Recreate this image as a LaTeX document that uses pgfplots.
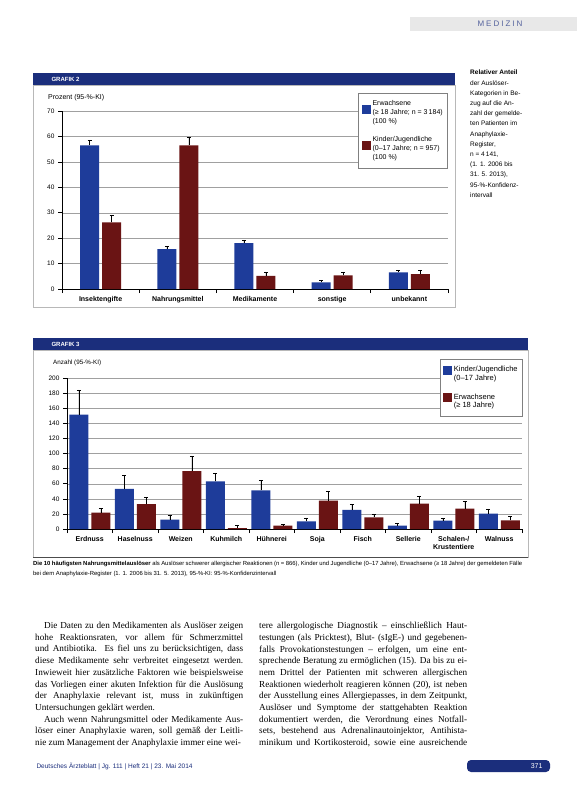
\documentclass[border=0pt]{standalone}
\usepackage{fontspec}
\setmainfont{Liberation Serif}
\setsansfont{Liberation Sans}
\usepackage{pgfplots}
\pgfplotsset{compat=1.18}
\definecolor{barblue}{HTML}{1E3C9A}
\definecolor{barred}{HTML}{6A1414}
\definecolor{navy}{HTML}{1B2E7C}
\definecolor{gridgray}{HTML}{A0A0A0}
\definecolor{framegray}{HTML}{B8B8B8}
\tolerance=9999
\emergencystretch=2em
\hbadness=10000
\pgfplotsset{mybars/.style={
  scale only axis, axis lines*=left, ymin=0, tick align=outside,
  ymajorgrids, grid style={gridgray, line width=0.4pt},
  x tick label as interval,
  ybar=3pt, bar width=19pt,
  tick label style={font=\sffamily\fontsize{6.5}{7}\selectfont},
  xticklabel style={font=\sffamily\bfseries\fontsize{7}{8}\selectfont, align=center},
  /pgf/number format/assume math mode=true,
  axis line style={black, line width=0.6pt},
  major tick length=4pt,
  tick style={black, line width=0.6pt},
  legend style={draw=gray, line width=0.5pt, cells={align=left, anchor=west}, inner sep=3pt},
  legend image code/.code={\fill[##1] (0pt,-1pt) rectangle (9pt,8pt);},
  clip=false,
}}
\begin{document}
\begin{tikzpicture}[x=1pt,y=1pt]
\fill[white] (0,0) rectangle (577,-790);
% page header
\fill[gray!18] (410,-17) rectangle (577,-31);
\node[anchor=west, font=\sffamily\fontsize{8}{9}\selectfont\addfontfeature{LetterSpace=25}, text=navy!75] at (474,-24) {MEDIZIN};

% ---------- GRAFIK 2 ----------
\fill[navy] (33,-73) rectangle (455,-85);
\node[anchor=west, text=white, font=\sffamily\bfseries\fontsize{6}{7}\selectfont] at (48,-79) {GRAFIK 2};
\draw[framegray, line width=0.6pt] (33,-85) rectangle (455,-307);
\node[anchor=west, inner sep=0pt, font=\sffamily\fontsize{7}{8}\selectfont] at (48,-98) {Prozent (95-\%-KI)};

\begin{axis}[mybars,
  at={(62pt,-289pt)}, anchor=south west, width=386pt, height=178pt,
  xmin=-0.5, xmax=4.5, ymax=70, ytick={0,10,...,70},
  xtick={-0.5,0.5,...,4.5},
  xticklabels={Insektengifte,Nahrungsmittel,Medikamente,sonstige,unbekannt},
  legend style={at={(1,1.101)}, anchor=north east, font=\sffamily\fontsize{7}{9}\selectfont, row sep=8pt, inner ysep=5pt},
]
\addplot[fill=barblue, draw=none, error bars/.cd, y dir=plus, y explicit,
  error bar style={black, line width=0.5pt}, error mark options={rotate=90, black, mark size=2pt, line width=0.5pt}]
  coordinates {(0,56.5) +- (0,2.0) (1,15.7) +- (0,1.0) (2,18.0) +- (0,1.2) (3,2.6) +- (0,0.8) (4,6.5) +- (0,0.8)};
\addlegendentry{Erwachsene\\(≥ 18 Jahre; n = 3\,184)\\(100 \%)}
\addplot[fill=barred, draw=none, error bars/.cd, y dir=plus, y explicit,
  error bar style={black, line width=0.5pt}, error mark options={rotate=90, black, mark size=2pt, line width=0.5pt}]
  coordinates {(0,26.2) +- (0,2.8) (1,56.5) +- (0,3.2) (2,5.2) +- (0,1.5) (3,5.4) +- (0,1.3) (4,5.9) +- (0,1.4)};
\addlegendentry{Kinder/Jugendliche\\(0–17 Jahre; n = 957)\\(100 \%)}
\end{axis}

% side note
\node[anchor=north west, align=left, inner sep=0pt, font=\sffamily\fontsize{6.5}{10.2}\selectfont] at (470,-70) {\textbf{Relativer Anteil}\\der Auslöser-\\Kategorien in Be-\\zug auf die An-\\zahl der gemelde-\\ten Patienten im\\Anaphylaxie-\\Register,\\n = 4\,141,\\(1. 1. 2006 bis\\31. 5. 2013),\\95-\%-Konfidenz-\\intervall};

% ---------- GRAFIK 3 ----------
\fill[navy] (33,-338) rectangle (528,-350);
\node[anchor=west, text=white, font=\sffamily\bfseries\fontsize{6}{7}\selectfont] at (48,-344) {GRAFIK 3};
\draw[framegray, line width=0.6pt] (33,-350) rectangle (528,-557);
\draw[black!70, line width=0.8pt] (33,-557) -- (528,-557);
\node[anchor=west, inner sep=0pt, font=\sffamily\fontsize{6.3}{7}\selectfont] at (53,-363) {Anzahl (95-\%-KI)};

\begin{axis}[mybars,
  at={(67pt,-529pt)}, anchor=south west, width=455pt, height=151pt,
  xmin=-0.5, xmax=9.5, ymax=200, ytick={0,20,...,200},
  xtick={-0.5,0.5,...,9.5},
  xticklabels={Erdnuss,Haselnuss,Weizen,Kuhmilch,Hühnerei,Soja,Fisch,Sellerie,{Schalen-/\\Krustentiere},Walnuss},
  legend style={at={(1.002,1.126)}, anchor=north east, font=\sffamily\fontsize{7.5}{8.5}\selectfont, row sep=8pt, inner ysep=5pt},
]
\addplot[fill=barblue, draw=none, error bars/.cd, y dir=plus, y explicit,
  error bar style={black, line width=0.5pt}, error mark options={rotate=90, black, mark size=2pt, line width=0.5pt}]
  coordinates {(0,151.4) +- (0,33) (1,53) +- (0,17.6) (2,12.4) +- (0,5.3) (3,63) +- (0,11) (4,51.2) +- (0,13.3)
               (5,10.2) +- (0,4.4) (6,25.2) +- (0,8) (7,4.4) +- (0,3.6) (8,11) +- (0,3.6) (9,20.3) +- (0,6.2)};
\addlegendentry{Kinder/Jugendliche\\(0–17 Jahre)}
\addplot[fill=barred, draw=none, error bars/.cd, y dir=plus, y explicit,
  error bar style={black, line width=0.5pt}, error mark options={rotate=90, black, mark size=2pt, line width=0.5pt}]
  coordinates {(0,21.6) +- (0,6.2) (1,33.1) +- (0,8.9) (2,76.8) +- (0,20) (3,1.3) +- (0,3.1) (4,4.4) +- (0,1.3)
               (5,37.5) +- (0,12.5) (6,15.5) +- (0,4.4) (7,33.6) +- (0,10.4) (8,27) +- (0,9.6) (9,11.5) +- (0,5.3)};
\addlegendentry{Erwachsene\\(≥ 18 Jahre)}
\end{axis}

% caption
\node[anchor=north west, text width=489pt, align=justify, inner sep=0pt, font=\sffamily\fontsize{5.9}{9.6}\selectfont] at (33,-561)
 {\textbf{Die 10 häufigsten Nahrungsmittelauslöser} als Auslöser schwerer allergischer Reaktionen (n = 866), Kinder und Jugendliche (0–17 Jahre), Erwachsene (≥ 18 Jahre) der gemeldeten Fälle bei dem Anaphylaxie-Register (1. 1. 2006 bis 31. 5. 2013), 95-\%-KI: 95-\%-Konfidenzintervall};

% body text
\node[anchor=north west, text width=208pt, align=justify, inner sep=0pt, font=\fontsize{9.2}{11.7}\selectfont] at (35,-622)
 {\hspace*{9pt}Die Daten zu den Medikamenten als Auslöser zeigen\linebreak
 hohe Reaktionsraten, vor allem für Schmerzmittel\linebreak
 und Antibiotika. Es fiel uns zu berücksichtigen, dass\linebreak
 diese Medikamente sehr verbreitet eingesetzt werden.\linebreak
 Inwieweit hier zusätzliche Faktoren wie beispielsweise\linebreak
 das Vorliegen einer akuten Infektion für die Auslösung\linebreak
 der Anaphylaxie relevant ist, muss in zukünftigen\linebreak
 Untersuchungen geklärt werden.\par
 \hspace*{9pt}Auch wenn Nahrungsmittel oder Medikamente Aus-\linebreak
 löser einer Anaphylaxie waren, soll gemäß der Leitli-\linebreak
 nie zum Management der Anaphylaxie immer eine wei-\par};
\node[anchor=north west, text width=208pt, align=justify, inner sep=0pt, font=\fontsize{9.2}{11.7}\selectfont] at (259,-622)
 {\parfillskip=0pt tere allergologische Diagnostik – einschließlich Haut-\linebreak
 testungen (als Pricktest), Blut- (sIgE-) und gegebenen-\linebreak
 falls Provokationstestungen – erfolgen, um eine ent-\linebreak
 sprechende Beratung zu ermöglichen (15). Da bis zu ei-\linebreak
 nem Drittel der Patienten mit schweren allergischen\linebreak
 Reaktionen wiederholt reagieren können (20), ist neben\linebreak
 der Ausstellung eines Allergiepasses, in dem Zeitpunkt,\linebreak
 Auslöser und Symptome der stattgehabten Reaktion\linebreak
 dokumentiert werden, die Verordnung eines Notfall-\linebreak
 sets, bestehend aus Adrenalinautoinjektor, Antihista-\linebreak
 minikum und Kortikosteroid, sowie eine ausreichende\par};

% footer
\node[anchor=west, font=\sffamily\fontsize{6.5}{7}\selectfont, text=navy] at (33,-766) {Deutsches Ärzteblatt | Jg. 111 | Heft 21 | 23. Mai 2014};
\fill[navy, rounded corners=4pt] (467,-760) rectangle (550,-772);
\node[anchor=east, font=\sffamily\fontsize{7}{8}\selectfont, text=white] at (546,-766) {371};
\end{tikzpicture}
\end{document}
